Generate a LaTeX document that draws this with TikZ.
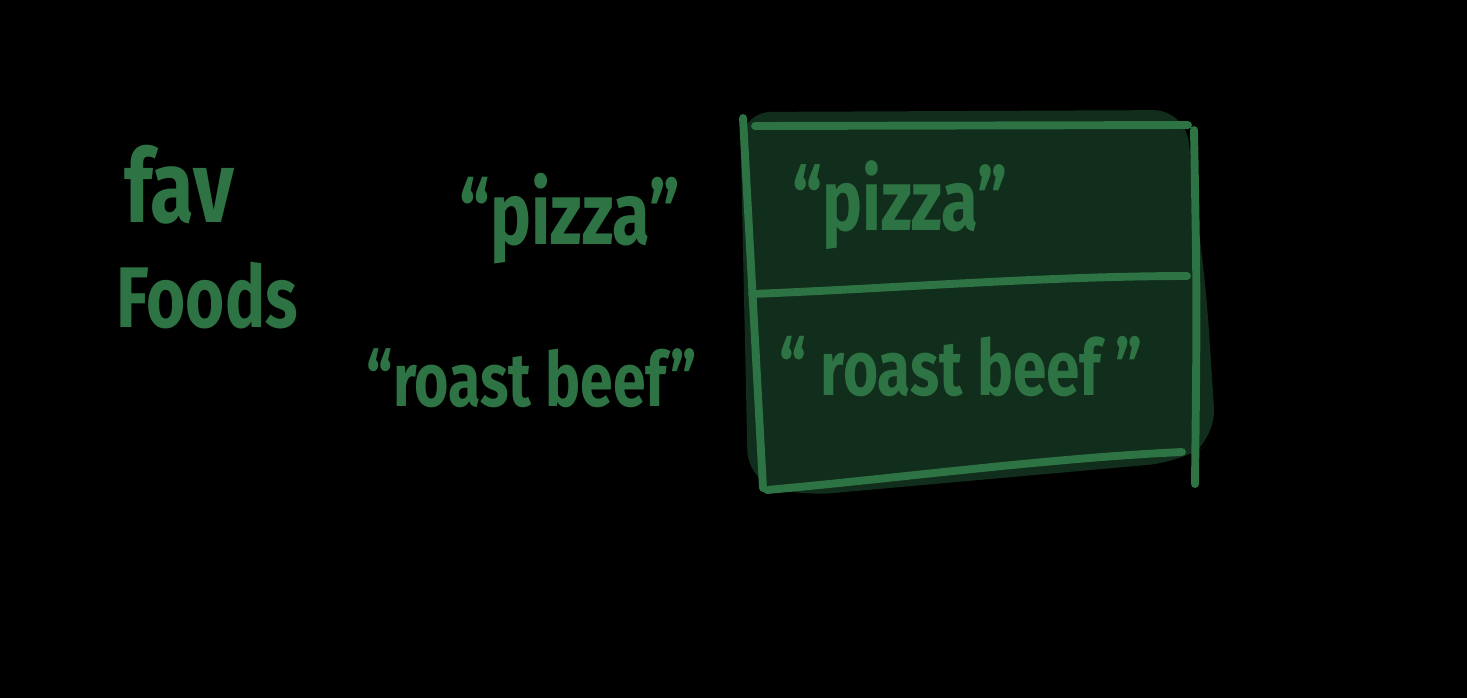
\documentclass[tikz,border=0pt]{standalone}
\usepackage{fontspec}
\setmainfont{Fira Sans}
\newfontfamily\hand[FakeStretch=0.78]{Fira Sans}
\usepackage{xcolor}
\usetikzlibrary{positioning}
\definecolor{ink}{HTML}{2E7343}
\definecolor{cellfill}{HTML}{112D1B}
\tikzset{
  stroke/.style={draw=ink,line width=4.5pt,line cap=round},
  word/.style={text=ink,inner sep=0pt,font=\hand\bfseries\fontsize{50}{54}\selectfont}
}

\begin{document}
\begin{tikzpicture}[x=.02cm,y=-.02cm]
  \fill[black] (0,0) rectangle (1467,698);
  \useasboundingbox (0,0) rectangle (1467,698);
  % loose labels
  \node[word,font=\hand\bfseries\fontsize{58}{62}\selectfont,anchor=base west] (fav) at (124,222) {fav};
  \node[word,font=\hand\bfseries\fontsize{49}{53}\selectfont,anchor=base west] (foods) at (116,327) {Foods};
  \node[word,anchor=base] (pizza) at (570,244) {“pizza”};
  \node[word,font=\hand\bfseries\fontsize{43}{47}\selectfont,anchor=base] (beef) at (532,406) {“roast beef”};
  % box corners
  \coordinate (tl) at (743,118);
  \coordinate (bl) at (763,488);
  \coordinate (tr) at (1194,130);
  \coordinate (br) at (1195,484);
  \fill[cellfill,rounded corners=18pt] (740,112) -- (1185,110) -- (1207,300)
    -- (1216,440) -- (1180,462) -- (800,496) -- (748,482) -- cycle;
  \draw[stroke] (tl) -- (bl);
  \draw[stroke] (tr) .. controls (1197,300) .. (br);
  \draw[stroke] (755,126) -- (1188,125);
  \draw[stroke] (752,294) .. controls (900,288) and (1050,276) .. (1187,276);
  \draw[stroke] (767,490) .. controls (900,478) and (1050,458) .. (1182,452);
  % cell contents
  \node[word,font=\hand\bfseries\fontsize{49}{53}\selectfont,anchor=base] (cellpizza) at (900,230) {“pizza”};
  \node[word,font=\hand\bfseries\fontsize{44}{48}\selectfont,anchor=base] (cellbeef) at (961,395) {“ roast beef ”};
\end{tikzpicture}
\end{document}
